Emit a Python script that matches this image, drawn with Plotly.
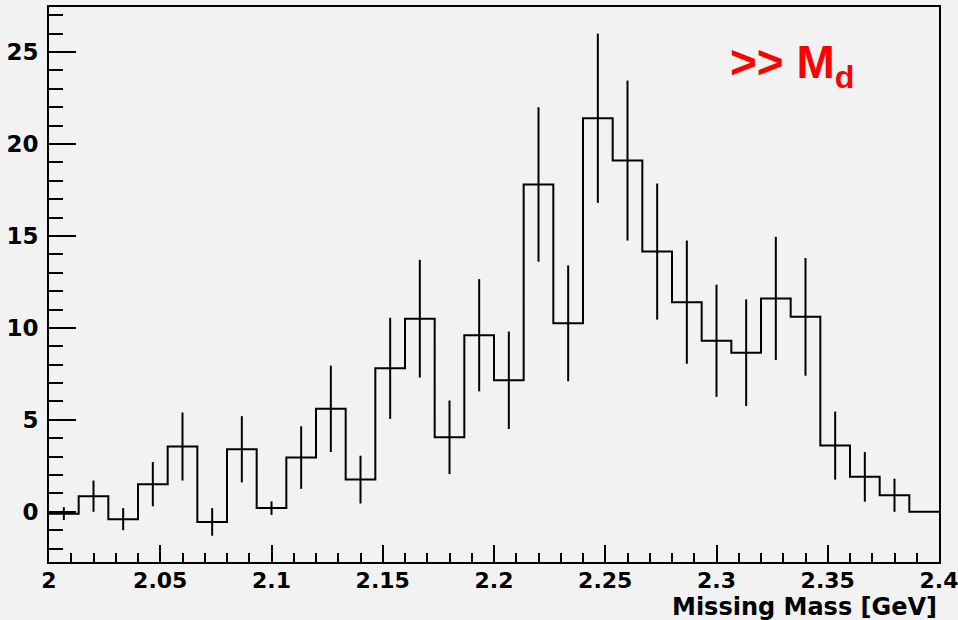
import numpy as np
import plotly.graph_objects as go

# Missing-mass histogram: 30 bins between 2.0 and 2.4 GeV
x_min, x_max, n_bins = 2.0, 2.4, 30
counts = [-0.1, 0.85, -0.4, 1.5, 3.55, -0.55, 3.4, 0.2, 2.95, 5.6,
          1.75, 7.8, 10.5, 4.05, 9.6, 7.15, 17.8, 10.25, 21.4, 19.1,
          14.15, 11.4, 9.3, 8.65, 11.6, 10.6, 3.6, 1.9, 0.9, 0.0]
errors = [0.35, 0.85, 0.6, 1.2, 1.85, 0.75, 1.8, 0.37, 1.7, 2.35,
          1.3, 2.75, 3.2, 2.0, 3.05, 2.65, 4.2, 3.15, 4.6, 4.35,
          3.7, 3.35, 3.05, 2.9, 3.35, 3.2, 1.85, 1.35, 0.9, 0.0]
x_ticks = [2.0, 2.05, 2.1, 2.15, 2.2, 2.25, 2.3, 2.35, 2.4]
x_tick_text = ["2", "2.05", "2.1", "2.15", "2.2", "2.25", "2.3", "2.35", "2.4"]
y_ticks = [0, 5, 10, 15, 20, 25]

edges = np.linspace(x_min, x_max, n_bins + 1)
centers = 0.5 * (edges[:-1] + edges[1:])

BG = "#f2f2f2"
LABEL_FONT = "DejaVu Sans, Verdana, sans-serif"
TEXT_FONT = "Liberation Sans, Arial, Helvetica, sans-serif"

fig = go.Figure()

# step outline of the histogram
fig.add_trace(go.Scatter(
    x=edges, y=list(counts) + [counts[-1]],
    mode="lines", line=dict(shape="hv", color="black", width=2),
    hoverinfo="skip", showlegend=False,
))

# vertical error bars at bin centres (no caps)
err_x = [c for c, e in zip(centers, errors) if e > 0]
err_y = [v for v, e in zip(counts, errors) if e > 0]
err_v = [e for e in errors if e > 0]
fig.add_trace(go.Scatter(
    x=err_x, y=err_y, mode="markers",
    marker=dict(size=1, color="black", opacity=0),
    error_y=dict(type="data", array=err_v, symmetric=True,
                 color="black", thickness=2, width=0),
    hoverinfo="skip", showlegend=False,
))

axis_common = dict(
    showgrid=False, zeroline=False,
    showline=True, linecolor="black", linewidth=2, mirror=True,
    ticks="inside", tickcolor="black", tickwidth=2,
    ticklabeloverflow="allow", automargin=False,
    tickfont=dict(family=LABEL_FONT, size=22, color="black", weight="bold"),
)

fig.update_xaxes(
    range=[x_min, x_max], tickvals=x_ticks, ticktext=x_tick_text,
    ticklen=17, ticklabelstandoff=-2,
    minor=dict(dtick=0.01, tick0=2.0, ticks="inside", ticklen=9,
               tickwidth=2, tickcolor="black", showgrid=False),
    **axis_common,
)
fig.update_yaxes(
    range=[-2.73, 27.45], tickvals=y_ticks,
    ticklen=27, ticklabelstandoff=4,
    minor=dict(dtick=1, tick0=0, ticks="inside", ticklen=14,
               tickwidth=2, tickcolor="black", showgrid=False),
    **axis_common,
)
fig.update_yaxes(tickfont_size=23)

fig.add_annotation(
    xref="paper", yref="paper", x=1.0, y=-0.081,
    xanchor="right", yanchor="middle", showarrow=False,
    text="Missing Mass [GeV]",
    font=dict(family=LABEL_FONT, size=24, color="black", weight="bold"),
)

fig.add_annotation(
    xref="paper", yref="paper", x=0.7625, y=0.894,
    xanchor="left", yanchor="middle", showarrow=False,
    text="&gt;&gt; M<sub>d</sub>",
    font=dict(family=TEXT_FONT, size=46, color="red", weight="bold"),
)

fig.update_layout(
    width=958, height=620,
    margin=dict(l=49, r=19, t=7, b=58),
    paper_bgcolor=BG, plot_bgcolor=BG,
    showlegend=False,
)

fig.write_html("out.html")
